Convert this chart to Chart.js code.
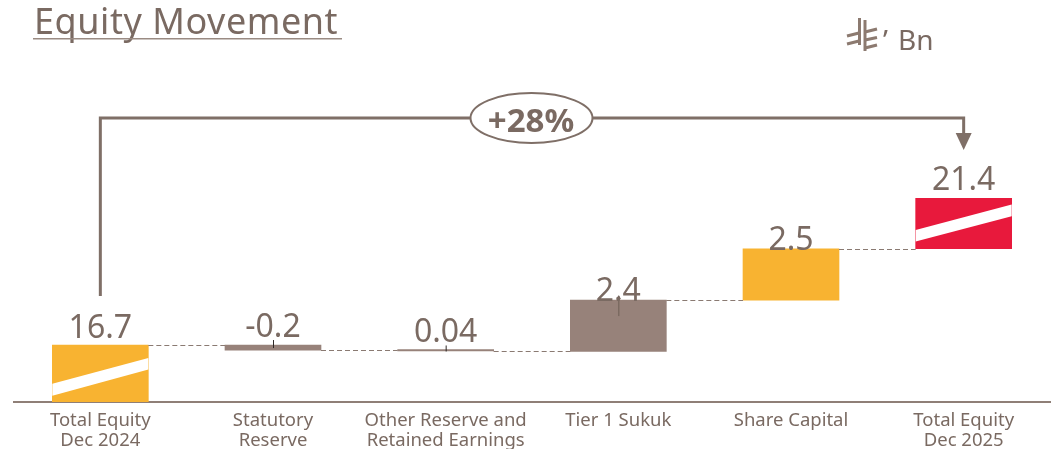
<!DOCTYPE html>
<html><head><meta charset="utf-8">
<style>html,body{margin:0;padding:0;background:#fff}#w{width:1061px;height:449px;position:relative}</style>
<script src="https://cdn.jsdelivr.net/npm/chart.js@4"></script>
</head><body><div id="w"><canvas id="c" width="1061" height="449"></canvas></div>
<script>
const categories = [["Total Equity","Dec 2024"],["Statutory","Reserve"],["Other Reserve and","Retained Earnings"],["Tier 1 Sukuk"],["Share Capital"],["Total Equity","Dec 2025"]];
const valueLabels = ["16.7","-0.2","0.04","2.4","2.5","21.4"];
// drawn bar extents (the original axis is broken)
const barStarts = [14.013,16.46,16.42,16.40,18.82,21.24];
const barEnds   = [16.70,16.70,16.49,18.82,21.24,23.62];
const barColors = ["#F8B331","#97827A","#97827A","#97827A","#F8B331","#E8193C"];
const connectorLevels = [16.70,16.46,16.42,18.82,21.24];
const TEXT = "#7A6A62", LINE = "#7F6F67", FONT = '"Noto Sans"';
const labelGap = [7,8,7,-1,-1,8];
const leaders = {1:[-5,3],2:[-4,2],3:[-4,16]};
const stripes = {0:[.68,.89,.227,.43],5:[.627,.857,.124,.353]};

const decor = {
  id:'decor',
  afterDatasetsDraw(chart){
    const {ctx} = chart, bars = chart.getDatasetMeta(0).data, ys = chart.scales.y;
    ctx.save();
    // white stripes
    for (const k in stripes){
      const b = bars[k], s = stripes[k], h = b.base - b.y, l = b.x - b.width/2, r = b.x + b.width/2;
      ctx.fillStyle = '#fff'; ctx.beginPath();
      ctx.moveTo(l, b.y+h*s[0]); ctx.lineTo(r, b.y+h*s[2]);
      ctx.lineTo(r, b.y+h*s[3]); ctx.lineTo(l, b.y+h*s[1]); ctx.closePath(); ctx.fill();
    }
    // dashed connectors
    ctx.strokeStyle = '#8A7A72'; ctx.lineWidth = 1; ctx.setLineDash([5,3]);
    connectorLevels.forEach((v,i)=>{
      const y = Math.round(ys.getPixelForValue(v))+.5;
      ctx.beginPath(); ctx.moveTo(bars[i].x+bars[i].width/2,y); ctx.lineTo(bars[i+1].x-bars[i+1].width/2,y); ctx.stroke();
    });
    ctx.setLineDash([]);
    // leader ticks
    for (const k in leaders){
      const b = bars[k], d = leaders[k];
      ctx.strokeStyle = k==3 ? '#6E5E56' : '#2E2826'; ctx.lineWidth = 1;
      ctx.beginPath(); ctx.moveTo(b.x+.5,b.y+d[0]); ctx.lineTo(b.x+.5,b.y+d[1]); ctx.stroke();
      if (k==3){ ctx.fillStyle='#6E5E56'; ctx.beginPath(); ctx.moveTo(b.x+.5,b.y+d[0]-1); ctx.lineTo(b.x+2.5,b.y+d[0]+3); ctx.lineTo(b.x-1.5,b.y+d[0]+3); ctx.closePath(); ctx.fill(); }
    }
    // value labels
    ctx.fillStyle = TEXT; ctx.font = '32px '+FONT; ctx.textAlign='center'; ctx.textBaseline='alphabetic';
    valueLabels.forEach((t,i)=> ctx.fillText(t, bars[i].x, bars[i].y-labelGap[i]));
    // bracket
    const x0 = bars[0].x, x1 = bars[5].x, yT = 118;
    ctx.strokeStyle = LINE; ctx.lineWidth = 3; ctx.lineJoin='miter';
    ctx.beginPath(); ctx.moveTo(x0,296); ctx.lineTo(x0,yT); ctx.lineTo(x1,yT); ctx.lineTo(x1,136); ctx.stroke();
    ctx.fillStyle = LINE; ctx.beginPath(); ctx.moveTo(x1-8,133); ctx.lineTo(x1+8,133); ctx.lineTo(x1,150); ctx.closePath(); ctx.fill();
    ctx.fillStyle='#fff'; ctx.lineWidth=2; ctx.beginPath(); ctx.ellipse(531.5,118,61,25,0,0,Math.PI*2); ctx.fill(); ctx.stroke();
    ctx.fillStyle = TEXT; ctx.font='bold 33px '+FONT; ctx.textAlign='center'; ctx.fillText('+28%',531,132);
    // title
    ctx.textAlign='left'; ctx.font='36px '+FONT; ctx.fillStyle=TEXT;
    ctx.letterSpacing='0.55px'; ctx.fillText('Equity Movement',34,34); ctx.letterSpacing='0px';
    ctx.fillStyle='#9A8B83'; ctx.fillRect(33,38,309,1.5);
    // currency
    ctx.strokeStyle='#8C7A70'; ctx.lineWidth=3; ctx.lineCap='butt';
    [[859.5,18,859.5,45],[865,20,865,51],[847,36,859,33],[847,44,859,41],[865,32,877,29],[865,40,877,37.5],[865,48,877,45]].forEach(s=>{
      ctx.beginPath(); ctx.moveTo(s[0],s[1]); ctx.lineTo(s[2],s[3]); ctx.stroke();
    });
    ctx.fillStyle=TEXT; ctx.font='28px '+FONT; ctx.fillText('’',883,50);
    ctx.fillText('Bn',898,50);
    ctx.restore();
  }
};

new Chart(document.getElementById('c'),{
  type:'bar',
  data:{labels:categories,datasets:[{
    data:barStarts.map((s,i)=>[s,barEnds[i]]),
    backgroundColor:barColors,barThickness:96,borderWidth:0,borderSkipped:false
  }]},
  options:{
    responsive:false,animation:false,
    layout:{padding:{left:14,right:11,top:0,bottom:0}},
    plugins:{legend:{display:false},tooltip:{enabled:false},title:{display:false}},
    scales:{
      y:{display:false,min:14.013,max:32.975},
      x:{
        afterFit(s){s.height=47;},
        grid:{display:false,drawTicks:false},
        border:{display:true,color:'#8F7F77',width:2},
        ticks:{color:TEXT,font:{family:'"Noto Sans"',size:18.5,lineHeight:1.08},padding:9,autoSkip:false,maxRotation:0}
      }
    }
  },
  plugins:[decor]
});
</script></body></html>
